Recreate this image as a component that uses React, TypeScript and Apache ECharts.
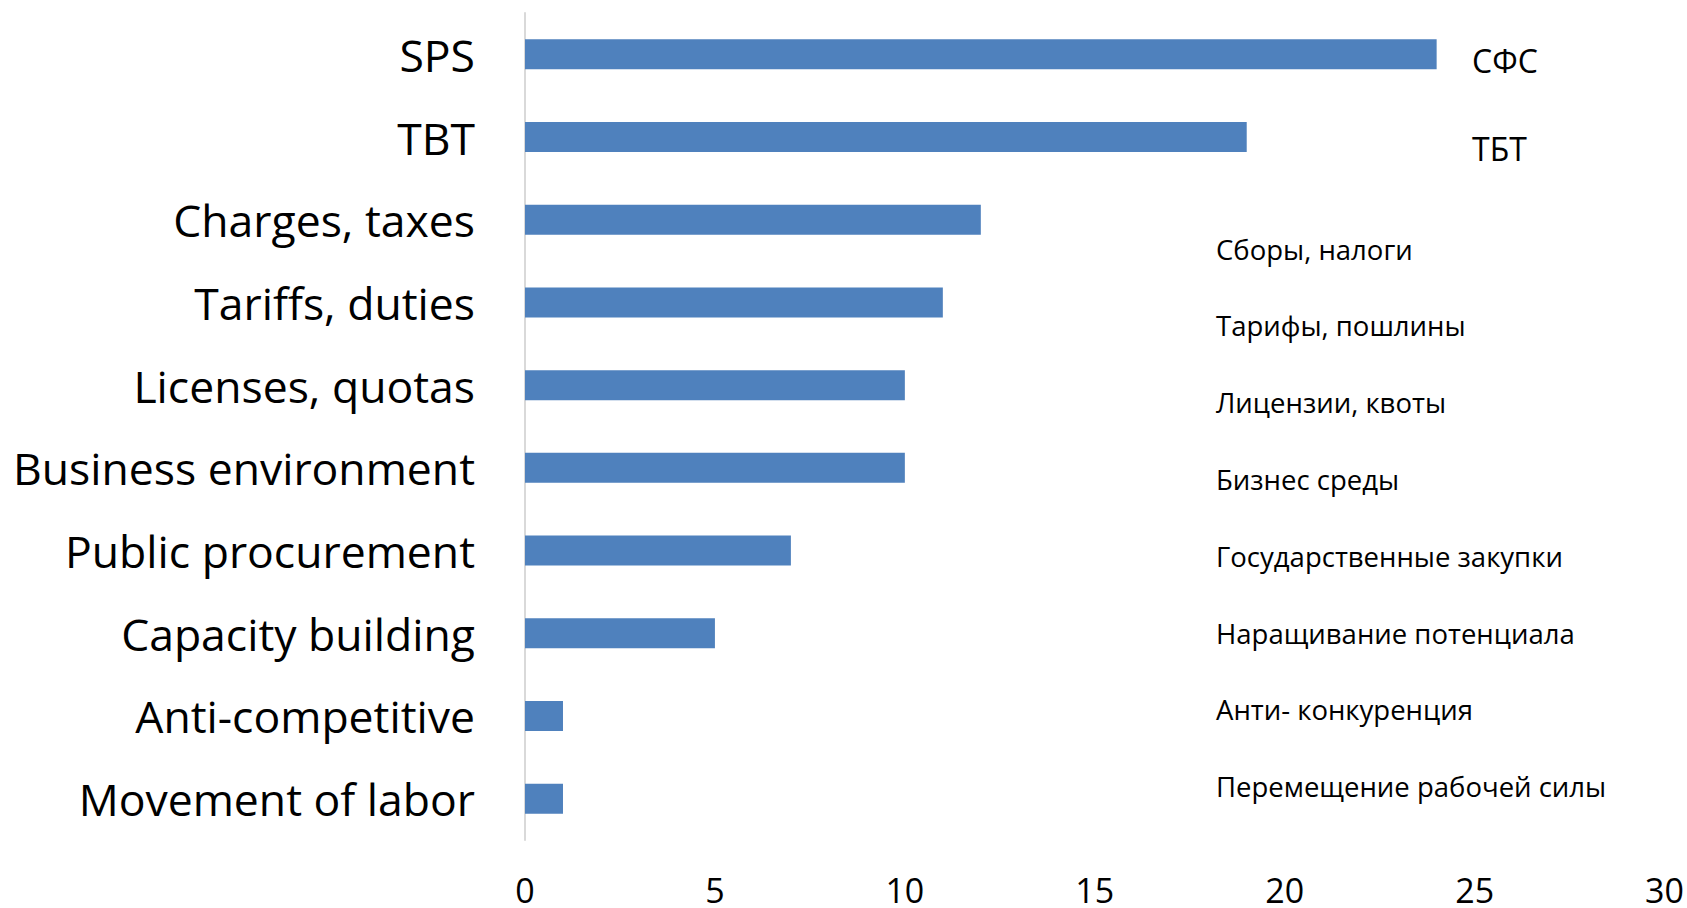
import React, { useEffect, useRef } from "react";
import * as echarts from "echarts";

const categories = [
  "SPS",
  "TBT",
  "Charges, taxes",
  "Tariffs, duties",
  "Licenses, quotas",
  "Business environment",
  "Public procurement",
  "Capacity building",
  "Anti-competitive",
  "Movement of labor",
];
const values = [24, 19, 12, 11, 10, 10, 7, 5, 1, 1];
const ruBig = ["СФС", "ТБТ"];
const ruSmall = [
  "Сборы, налоги",
  "Тарифы, пошлины",
  "Лицензии, квоты",
  "Бизнес среды",
  "Государственные закупки",
  "Наращивание потенциала",
  "Анти- конкуренция",
  "Перемещение рабочей силы",
];
const xMin = 0;
const xMax = 30;
const xInterval = 5;

const FONT = "'Open Sans', 'Noto Sans', sans-serif";

export default function App() {
  const ref = useRef<HTMLDivElement>(null);
  useEffect(() => {
    if (!ref.current) return;
    const chart = echarts.init(ref.current, null, { renderer: "svg" });
    const bigY = [66, 154];
    const smallY0 = 254;
    const smallStep = 76.8;
    const graphics: any[] = [];
    ruBig.forEach((t, i) => {
      graphics.push({
        type: "text",
        left: 1472,
        top: bigY[i] - 22,
        style: { text: t, font: `32px ${FONT}`, fill: "#000" },
      });
    });
    ruSmall.forEach((t, i) => {
      graphics.push({
        type: "text",
        left: 1216,
        top: smallY0 + i * smallStep - 19,
        style: { text: t, font: `27.5px ${FONT}`, fill: "#000" },
      });
    });
    chart.setOption({
      animation: false,
      backgroundColor: "#fff",
      grid: { left: 525, right: 22, top: 13, bottom: 68, containLabel: false },
      xAxis: {
        type: "value",
        min: xMin,
        max: xMax,
        interval: xInterval,
        axisLine: { show: false },
        axisTick: { show: false },
        splitLine: { show: false },
        axisLabel: {
          fontSize: 34,
          lineHeight: 30,
          color: "#000",
          fontFamily: FONT,
          margin: 35,
        },
      },
      yAxis: {
        type: "category",
        data: categories,
        inverse: true,
        axisLine: { show: true, lineStyle: { color: "#D9D9D9", width: 2 } },
        axisTick: { show: false },
        axisLabel: { fontSize: 44.5, color: "#000", fontFamily: FONT, margin: 50 },
      },
      series: [
        {
          type: "bar",
          data: values,
          barWidth: 30,
          itemStyle: { color: "#4F81BD" },
        },
      ],
      graphic: graphics,
    });
    return () => chart.dispose();
  }, []);
  return <div ref={ref} style={{ width: 1687, height: 908, position: "absolute", left: 0, top: 0 }} />;
}
